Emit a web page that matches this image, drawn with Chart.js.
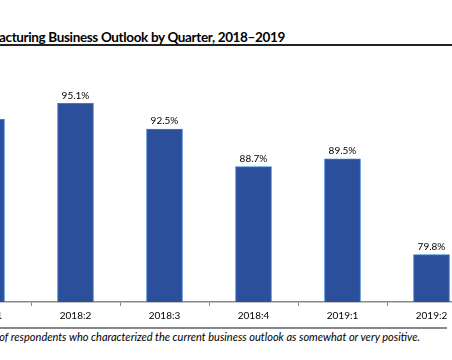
<!DOCTYPE html>
<html>
<head>
<meta charset="utf-8">
<script src="https://cdn.jsdelivr.net/npm/chart.js@4"></script>
<style>
  html, body { margin: 0; padding: 0; }
  body { width: 452px; height: 360px; overflow: hidden; position: relative; background: #fff; font-family: Lato, "Open Sans", sans-serif; }
  #title { position: absolute; right: 167px; top: 29px; white-space: nowrap; font-weight: bold; font-size: 13.5px; letter-spacing: -0.35px; color: #000; }
  #topline { position: absolute; left: 0; top: 44px; width: 452px; height: 1.5px; background: #222; }
  #wrap { position: absolute; left: -58px; top: 55px; width: 534px; height: 271px; }
  #bottomline { position: absolute; left: 0; top: 327px; width: 447px; height: 2px; background: #888; }
  #note { position: absolute; right: 32px; top: 330px; white-space: nowrap; font-style: italic; font-size: 11px; color: #000; }
</style>
</head>
<body>
<div id="title">Figure 1. Manufacturing Business Outlook by Quarter, 2018–2019</div>
<div id="topline"></div>
<div id="wrap"><canvas id="myChart"></canvas></div>
<div id="bottomline"></div>
<div id="note">Note: Percentage of respondents who characterized the current business outlook as somewhat or very positive.</div>
<script>
var quarters = ['2018:1', '2018:2', '2018:3', '2018:4', '2019:1', '2019:2'];
var positiveShare = [93.5, 95.1, 92.5, 88.7, 89.5, 79.8];

// percent labels above each bar
var barLabels = {
    id: 'barLabels',
    afterDatasetsDraw: function(chart) {
        var ctx = chart.ctx;
        var meta = chart.getDatasetMeta(0);
        ctx.save();
        ctx.font = '10px Lato, "Open Sans", sans-serif';
        ctx.fillStyle = '#000';
        ctx.textAlign = 'center';
        ctx.textBaseline = 'bottom';
        meta.data.forEach(function(bar, i) {
            ctx.fillText(positiveShare[i].toFixed(1) + '%', bar.x, bar.y - 3);
        });
        ctx.restore();
    }
};

var ctx = document.getElementById('myChart').getContext('2d');
var chart = new Chart(ctx, {
    type: 'bar',
    data: {
        labels: quarters,
        datasets: [{
            data: positiveShare,
            backgroundColor: '#2c4f9b',
            borderColor: '#3a7bd5',
            borderWidth: 1,
            barThickness: 36
        }]
    },
    options: {
        responsive: true,
        maintainAspectRatio: false,
        animation: false,
        layout: { padding: 0 },
        plugins: {
            legend: { display: false },
            tooltip: { enabled: false }
        },
        scales: {
            x: {
                offset: true,
                grid: { offset: true, drawOnChartArea: false, drawTicks: true, tickLength: 4, color: '#888' },
                border: { color: '#888', width: 1.5 },
                ticks: { color: '#000', font: { size: 10, family: 'Lato, "Open Sans", sans-serif' }, padding: 4, maxRotation: 0 }
            },
            y: {
                display: false,
                min: 75,
                max: 100
            }
        }
    },
    plugins: [barLabels]
});
</script>
</body>
</html>
